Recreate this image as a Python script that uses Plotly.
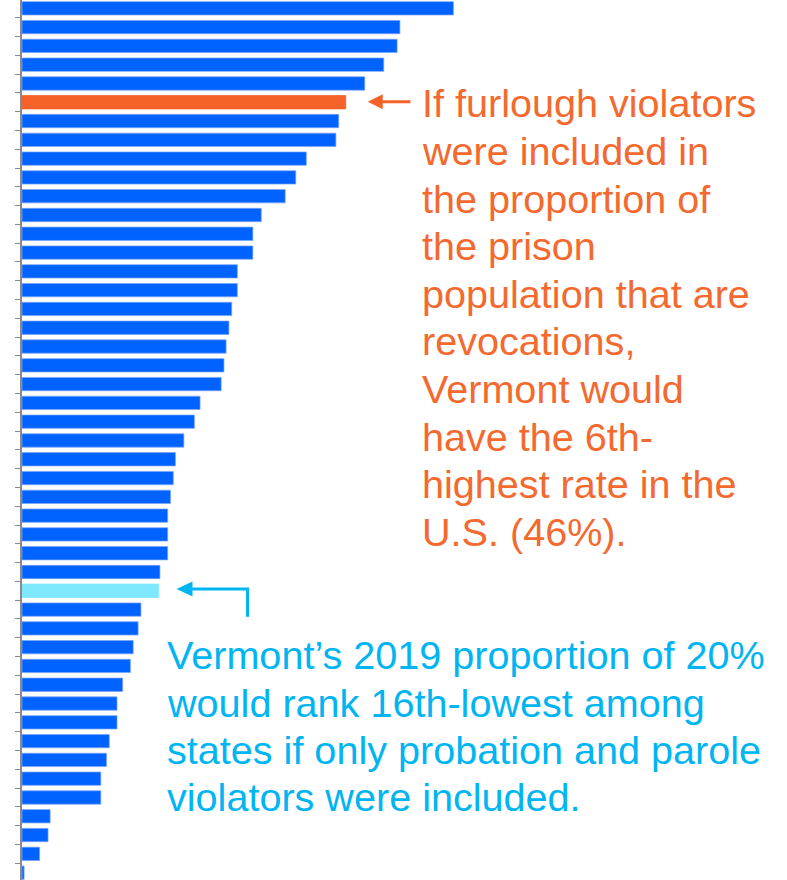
import plotly.graph_objects as go

# ---- data (proportion of prison population that are revocations, %, ranked high -> low)
ranks = list(range(1, 48))
values = [61.3, 53.7, 53.3, 51.4, 48.7, 46.0, 45.0, 44.6, 40.4, 38.9,
          37.4, 34.0, 32.8, 32.8, 30.6, 30.6, 29.8, 29.4, 29.0, 28.7,
          28.3, 25.3, 24.5, 23.0, 21.8, 21.5, 21.1, 20.7, 20.7, 20.7,
          19.6, 19.4, 16.9, 16.5, 15.8, 15.4, 14.3, 13.5, 13.5, 12.4,
          12.0, 11.2, 11.2, 4.0, 3.7, 2.5, 0.3]
vt_furlough_rank = 6     # Vermont incl. furlough violators (46%)
vt_2019_rank = 32        # Vermont 2019 proportion (~20%)

orange_lines = ["If furlough violators", "were included in", "the proportion of",
                "the prison", "population that are", "revocations,",
                "Vermont would", "have the 6th-", "highest rate in the",
                "U.S. (46%)."]
blue_lines = ["Vermont\u2019s 2019 proportion of 20%", "would rank 16th-lowest among",
              "states if only probation and parole", "violators were included."]

BLUE = "#0062FF"
ORANGE = "#F4622A"
LIGHT = "#7EE8FC"
TXT_ORANGE = "#F4692E"
TXT_BLUE = "#00B5F1"

W, H = 787, 880
ML = 22
PLOT_W = W - ML
XMAX = 108.7
PXU = PLOT_W / XMAX          # px per x unit
PITCH = 18.79
Y_TOP = -8.3 / PITCH
Y_BOT = Y_TOP + H / PITCH
PYU = PITCH                  # px per category

idx = [r - 1 for r in ranks]
colors = []
for r in ranks:
    if r == vt_furlough_rank:
        colors.append(ORANGE)
    elif r == vt_2019_rank:
        colors.append(LIGHT)
    else:
        colors.append(BLUE)
lines = ["rgba(120,165,255,0.9)" if c == BLUE else c for c in colors]

fig = go.Figure(go.Bar(
    x=values, y=idx, orientation="h",
    marker=dict(color=colors, line=dict(color=lines, width=0.8)),
    hoverinfo="skip",
))

fig.update_layout(
    width=W, height=H, autosize=False,
    margin=dict(l=ML, r=0, t=0, b=0),
    paper_bgcolor="white", plot_bgcolor="white",
    bargap=0.29, showlegend=False,
    xaxis=dict(range=[0, XMAX], visible=False, fixedrange=True),
    yaxis=dict(range=[Y_BOT, Y_TOP], showgrid=False, zeroline=False,
               showline=True, linecolor="#8a8a8a", linewidth=1.5,
               ticks="outside", ticklen=5, tickwidth=1.2, tickcolor="#8a8a8a",
               tickvals=[i + 0.5 for i in idx], showticklabels=False,
               fixedrange=True, automargin=False),
)

shapes = []
# orange arrow pointing at the furlough bar
vf = values[vt_furlough_rank - 1]
yf = vt_furlough_rank - 1 - 0.03
tip = vf + 22 / PXU
head_len = 15 / PXU
half_h = 7.5 / PYU
shapes.append(dict(type="line", xref="x", yref="y", x0=tip + head_len * 0.6, y0=yf,
                   x1=tip + 42.7 / PXU, y1=yf, line=dict(color=ORANGE, width=3)))
shapes.append(dict(type="path", xref="x", yref="y",
                   path=f"M {tip},{yf} L {tip + head_len},{yf - half_h} L {tip + head_len},{yf + half_h} Z",
                   fillcolor=ORANGE, line=dict(width=0)))

# blue elbow arrow pointing at the 2019 bar
vb = values[vt_2019_rank - 1]
yb = vt_2019_rank - 1 - 0.09
btip = vb + 18 / PXU
bhead = 16 / PXU
bhalf = 7.5 / PYU
xcorner = btip + 71 / PXU
shapes.append(dict(type="line", xref="x", yref="y", x0=btip + bhead * 0.6, y0=yb,
                   x1=xcorner + 1.5 / PXU, y1=yb, line=dict(color=TXT_BLUE, width=3)))
shapes.append(dict(type="line", xref="x", yref="y", x0=xcorner, y0=yb,
                   x1=xcorner, y1=yb + 27.7 / PYU, line=dict(color=TXT_BLUE, width=3)))
shapes.append(dict(type="path", xref="x", yref="y",
                   path=f"M {btip},{yb} L {btip + bhead},{yb - bhalf} L {btip + bhead},{yb + bhalf} Z",
                   fillcolor=TXT_BLUE, line=dict(width=0)))
fig.update_layout(shapes=shapes)

FS = 39.6
annots = []


def px_to_paper(px, py):
    return (px - ML) / PLOT_W, 1 - py / H


for i, t in enumerate(orange_lines):
    base = 116.7 + i * 47.6
    x, y = px_to_paper(420, base - 0.3465 * FS + 0.5)
    annots.append(dict(text=t, x=x, y=y, xref="paper", yref="paper",
                       xanchor="left", yanchor="middle", showarrow=False,
                       font=dict(family="Liberation Sans, Arial, sans-serif",
                                 size=FS, color=TXT_ORANGE)))
for i, t in enumerate(blue_lines):
    base = 668.7 + i * 47.2
    x, y = px_to_paper(164.5, base - 0.3465 * FS + 0.5)
    annots.append(dict(text=t, x=x, y=y, xref="paper", yref="paper",
                       xanchor="left", yanchor="middle", showarrow=False,
                       font=dict(family="Liberation Sans, Arial, sans-serif",
                                 size=FS, color=TXT_BLUE)))
fig.update_layout(annotations=annots)

fig.write_html("out.html", config={"displayModeBar": False},
               post_script="document.body.style.margin='0';document.body.style.overflow='hidden';")
